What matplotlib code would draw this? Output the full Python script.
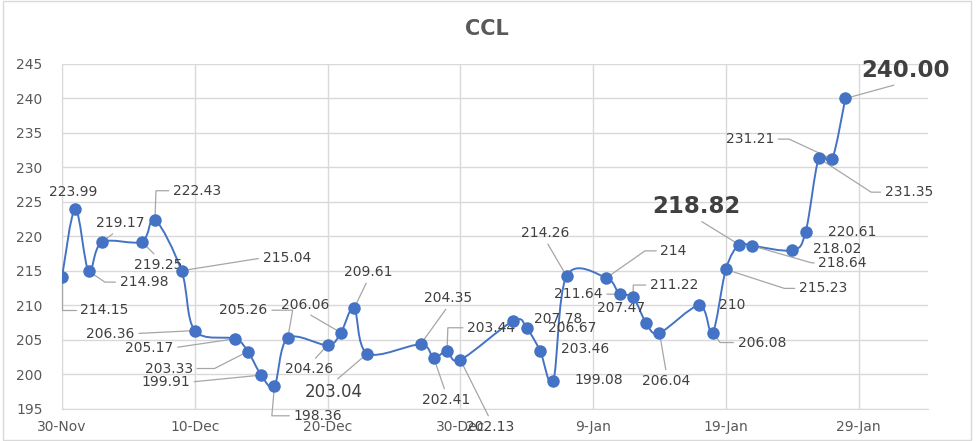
import numpy as np
import pandas as pd
import matplotlib
matplotlib.use("Agg")
import matplotlib.pyplot as plt
import matplotlib.dates as mdates
from matplotlib.path import Path
from matplotlib.patches import PathPatch, Rectangle

# Data (CCL, trading days Nov-2021 .. Jan-2022)
###################################################################
dates = pd.to_datetime([
    "2021-11-30", "2021-12-01", "2021-12-02", "2021-12-03", "2021-12-06", "2021-12-07",
    "2021-12-09", "2021-12-10", "2021-12-13", "2021-12-14", "2021-12-15", "2021-12-16",
    "2021-12-17", "2021-12-20", "2021-12-21", "2021-12-22", "2021-12-23", "2021-12-27",
    "2021-12-28", "2021-12-29", "2021-12-30", "2022-01-03", "2022-01-04", "2022-01-05",
    "2022-01-06", "2022-01-07", "2022-01-10", "2022-01-11", "2022-01-12", "2022-01-13",
    "2022-01-14", "2022-01-17", "2022-01-18", "2022-01-19", "2022-01-20", "2022-01-21",
    "2022-01-24", "2022-01-25", "2022-01-26", "2022-01-27", "2022-01-28"])
ccl = [214.15, 223.99, 214.98, 219.17, 219.25, 222.43,
       215.04, 206.36, 205.17, 203.33, 199.91, 198.36,
       205.26, 204.26, 206.06, 209.61, 203.04, 204.35,
       202.41, 203.44, 202.13, 207.78, 206.67, 203.46,
       199.08, 214.26, 214.00, 211.64, 211.22, 207.47,
       206.04, 210.00, 206.08, 215.23, 218.82, 218.64,
       218.02, 220.61, 231.35, 231.21, 240.00]
label_text = ["214.15", "223.99", "214.98", "219.17", "219.25", "222.43",
              "215.04", "206.36", "205.17", "203.33", "199.91", "198.36",
              "205.26", "204.26", "206.06", "209.61", "203.04", "204.35",
              "202.41", "203.44", "202.13", "207.78", "206.67", "203.46",
              "199.08", "214.26", "214", "211.64", "211.22", "207.47",
              "206.04", "210", "206.08", "215.23", "218.82", "218.64",
              "218.02", "220.61", "231.35", "231.21", "240.00"]

# label layout: (dx px, dy px, ha, leader, relpos, size, weight)
# leader: None = no line, "s" = straight, number = elbow angle at the point
L, R, C = "left", "right", "center"
layout = [
    (18, -33, L, 90, (0, .5), 10, "normal"),
    (-2, 17, C, None, None, 10, "normal"),
    (31, -11, L, -34, (0, .5), 10, "normal"),
    (18, 19, C, "s", (.45, 0), 10, "normal"),
    (16, -23, C, "s", (.5, 1), 10, "normal"),
    (18, 29, L, 88, (0, .5), 10, "normal"),
    (81, 13, L, 9, (0, .5), 10, "normal"),
    (-60, -3, R, "s", (1, .5), 10, "normal"),
    (-61, -9, R, "s", (1, .5), 10, "normal"),
    (-55, -17, R, 27, (1, .5), 10, "normal"),
    (-71, -7, R, "s", (1, .5), 10, "normal"),
    (19, -30, L, 85, (0, .5), 10, "normal"),
    (-20, 28, R, 80, (1, .5), 10, "normal"),
    (-18, -24, C, "s", (.55, 1), 10, "normal"),
    (-36, 28, C, "s", (.5, 0), 10, "normal"),
    (14, 36, C, "s", (.5, 0), 10, "normal"),
    (-34, -38, C, "s", (.5, 1), 12, "normal"),
    (28, 46, C, "s", (.5, 0), 10, "normal"),
    (12, -42, C, "s", (.5, 1), 10, "normal"),
    (20, 23, L, 88, (0, .5), 10, "normal"),
    (30, -67, C, "s", (.5, 1), 10, "normal"),
    (45, 2, C, None, None, 10, "normal"),
    (45, 0, C, None, None, 10, "normal"),
    (45, 2, C, None, None, 10, "normal"),
    (45, 1, C, None, None, 10, "normal"),
    (-21, 43, C, "s", (.5, 0), 10, "normal"),
    (54, 27, L, 35, (0, .5), 10, "normal"),
    (-17, 0, R, "s", (1, .5), 10, "normal"),
    (17, 12, L, 88, (0, .5), 10, "normal"),
    (-1, 15, R, None, None, 10, "normal"),
    (7, -48, C, "s", (.5, 1), 10, "normal"),
    (20, 0, L, None, None, 10, "normal"),
    (25, -10, L, -53, (0, .5), 10, "normal"),
    (73, -19, L, -18, (0, .5), 10, "normal"),
    (-43, 38, C, "s", (.5, 0), 16.5, "bold"),
    (66, -17, L, -16, (0, .5), 10, "normal"),
    (21, 1, L, None, None, 10, "normal"),
    (22, 0, L, None, None, 10, "normal"),
    (66, -34, L, -33, (0, .5), 10, "normal"),
    (-58, 20, R, -25, (1, .5), 10, "normal"),
    (60, 28, C, "s", (.5, 0), 16.5, "bold"),
]

blue = "#4472C4"
txt = "#404040"
grid = "#d9d9d9"

fig = plt.figure(figsize=(9.8, 4.41), dpi=100)
ax = fig.add_axes([0.0633, 0.0726, 0.8833, 0.7823])

# smoothed line (Catmull-Rom as bezier, like Excel's smoothed line)
x = mdates.date2num(dates)
y = np.array(ccl)
pts = np.column_stack([x, y])
verts = [pts[0]]
codes = [Path.MOVETO]
for i in range(len(pts) - 1):
    p0 = pts[max(i - 1, 0)]
    p1 = pts[i]
    p2 = pts[i + 1]
    p3 = pts[min(i + 2, len(pts) - 1)]
    verts += [p1 + (p2 - p0) / 6, p2 - (p3 - p1) / 6, p2]
    codes += [Path.CURVE4] * 3
ax.add_patch(PathPatch(Path(verts, codes), facecolor="none", edgecolor=blue, lw=1.4, zorder=3))
ax.plot(dates, ccl, "o", color=blue, markersize=9, zorder=5, markeredgewidth=0)

for i, (dx, dy, ha, leader, rp, fs, fw) in enumerate(layout):
    kw = {}
    if leader is not None:
        if leader == "s":
            cs = "arc3,rad=0"
        else:
            cs = "angle,angleA=0,angleB=%g,rad=0" % leader
        kw["arrowprops"] = dict(arrowstyle="-", color="#a6a6a6", lw=0.9, shrinkA=1, shrinkB=0,
                                relpos=rp, connectionstyle=cs)
    ax.annotate(label_text[i], xy=(dates[i], ccl[i]), xytext=(dx, dy), textcoords="offset pixels",
                ha=ha, va="center", fontsize=fs, fontweight=fw, color=txt, zorder=4, **kw)

ax.set_ylim(195, 245)
ax.set_yticks(np.arange(195, 246, 5))
ax.set_xlim(x[0], x[0] + 65.2)
ax.set_xticks(x[0] + np.arange(0, 61, 10))
ax.xaxis.set_major_formatter(mdates.DateFormatter("%-d-%b"))
ax.grid(color=grid, lw=1)
ax.set_axisbelow(True)
for s in ["top", "right"]:
    ax.spines[s].set_visible(False)
for s in ["left", "bottom"]:
    ax.spines[s].set_color(grid)
ax.tick_params(axis="both", length=0, labelsize=10, labelcolor="#595959")
ax.tick_params(axis="y", pad=14)
ax.tick_params(axis="x", pad=8)

fig.text(0.497, 1 - 29 / 441, "CCL", ha="center", va="center", fontsize=15,
         fontweight="bold", color="#595959")
fig.patches.append(Rectangle((0.003, 0.002), 0.988, 0.995, transform=fig.transFigure,
                             fill=False, edgecolor=grid, lw=1))

fig.savefig("out.png", dpi=100)
